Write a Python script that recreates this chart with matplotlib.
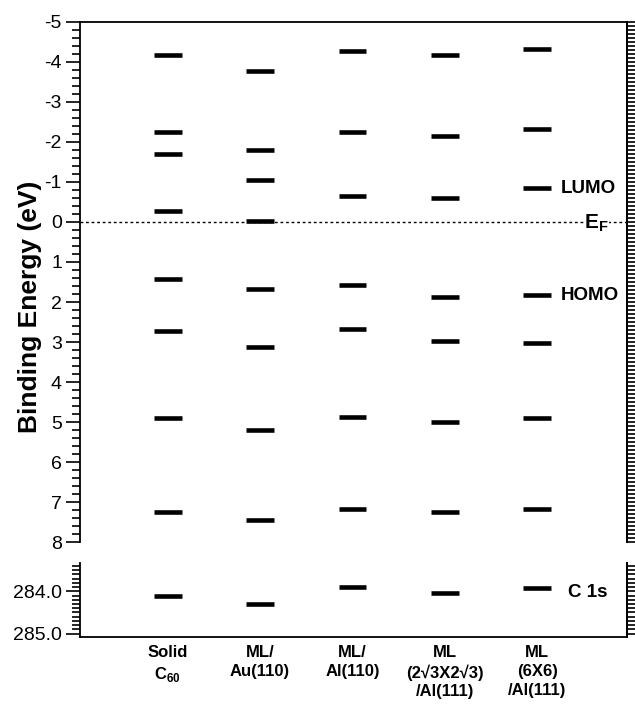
import matplotlib
matplotlib.use('Agg')
import matplotlib.pyplot as plt
from matplotlib.ticker import MultipleLocator, FormatStrFormatter

plt.rcParams['font.family'] = ['Liberation Sans', 'DejaVu Sans']
plt.rcParams['axes.unicode_minus'] = False
plt.rcParams['mathtext.fontset'] = 'custom'
plt.rcParams['mathtext.rm'] = 'Liberation Sans'
plt.rcParams['mathtext.bf'] = 'Liberation Sans:bold'

# categories (x positions 1..5)
categories = ['Solid\nC$_{\\mathbf{60}}$', 'ML/\nAu(110)', 'ML/\nAl(110)',
              'ML\n(2\u221a3X2\u221a3)\n/Al(111)', 'ML\n(6X6)\n/Al(111)']

# valence levels (binding energy, eV)
solid_c60 = [-4.16, -2.24, -1.70, -0.28, 1.43, 2.73, 4.90, 7.25]
ml_au110 = [-3.76, -1.80, -1.05, -0.03, 1.68, 3.13, 5.19, 7.45]
ml_al110 = [-4.27, -2.24, -0.65, 1.57, 2.67, 4.87, 7.16]
ml_al111_r3 = [-4.16, -2.15, -0.60, 1.87, 2.98, 5.00, 7.25]
ml_al111_6x6 = [-4.33, -2.32, -0.84, 1.83, 3.03, 4.89, 7.16]
levels = [solid_c60, ml_au110, ml_al110, ml_al111_r3, ml_al111_6x6]

# C 1s core level (eV)
c1s = [284.10, 284.29, 283.91, 284.03, 283.92]

fig = plt.figure(figsize=(6.35, 7.05), dpi=100)
ax = fig.add_axes([0.126, 0.231, 0.861, 0.738])
axb = fig.add_axes([0.126, 0.0965, 0.861, 0.105])

hw = 0.15
for i, lv in enumerate(levels):
    x = i + 1
    ax.hlines(lv, x - hw, x + hw, colors='black', linewidth=3.3)
    axb.hlines(c1s[i], x - hw, x + hw, colors='black', linewidth=3.3)

# Fermi level
ax.axhline(0, color='black', linewidth=1, linestyle=(0, (2, 2)))

for a in (ax, axb):
    a.set_xlim(0.05, 5.97)
    a.tick_params(axis='y', which='major', direction='out', length=10, width=1.2,
                  labelsize=14, pad=3)
    a.tick_params(axis='y', which='minor', direction='out', length=6, width=1.2)
    a.tick_params(axis='x', length=0)
    for s in a.spines.values():
        s.set_linewidth(1.3)

ax.set_ylim(8, -5)
ax.yaxis.set_major_locator(MultipleLocator(1))
ax.yaxis.set_minor_locator(MultipleLocator(0.2))
ax.spines['bottom'].set_visible(False)
ax.set_xticks([])

axb.set_ylim(285.08, 283.33)
axb.set_yticks([284.0, 285.0])
axb.yaxis.set_major_formatter(FormatStrFormatter('%.1f'))
axb.yaxis.set_minor_locator(MultipleLocator(0.1))
axb.spines['top'].set_visible(False)
axb.set_xticks([1, 2, 3, 4, 5])
axb.set_xticklabels(categories, fontsize=12, fontweight='bold', va='top',
                    linespacing=1.3)
axb.tick_params(axis='x', pad=6)

# comb of ticks on the right side
for a, lim in ((ax, (8, -5)), (axb, (285.08, 283.33))):
    r = a.twinx()
    r.set_ylim(*lim)
    r.yaxis.set_major_locator(MultipleLocator(0.1))
    r.tick_params(axis='y', direction='out', length=5.5, width=1.2, labelright=False)
    for k in ('left', 'top', 'bottom'):
        r.spines[k].set_visible(False)
    r.spines['right'].set_linewidth(1.3)

# annotations
ax.text(5.26, -0.84, 'LUMO', fontsize=13.5, fontweight='bold', va='center', ha='left')
ax.text(5.26, 1.83, 'HOMO', fontsize=13.5, fontweight='bold', va='center', ha='left')
ax.text(5.51, 0.17, '$\\mathbf{E_F}$', fontsize=15, va='baseline', ha='left',
        bbox=dict(facecolor='white', edgecolor='none', pad=0.5))
axb.text(5.33, 284.03, 'C 1s', fontsize=13.5, fontweight='bold', va='center', ha='left')

fig.text(0.048, 0.565, 'Binding Energy (eV)', rotation=90, fontsize=19,
         fontweight='bold', ha='center', va='center')

fig.savefig('out.png', dpi=100)
